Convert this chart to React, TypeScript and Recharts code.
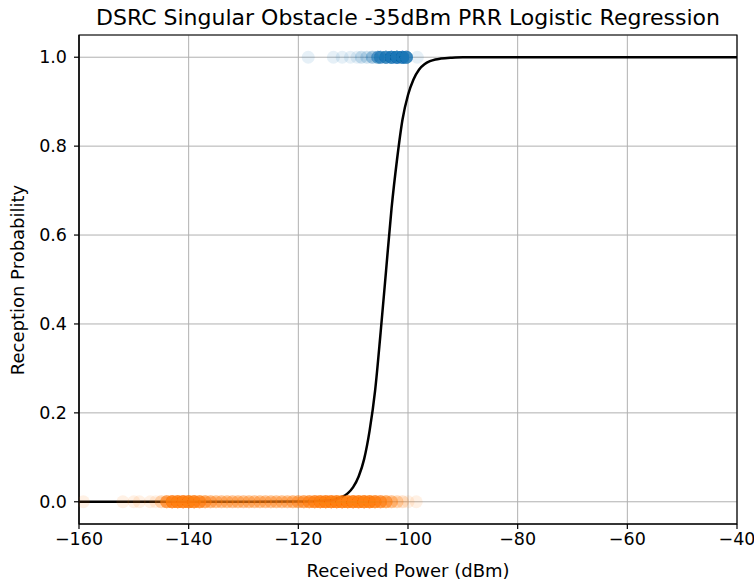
import React from 'react';
import { ComposedChart, Scatter, Line, XAxis, YAxis, CartesianGrid, ReferenceArea } from 'recharts';

const TITLE = 'DSRC Singular Obstacle -35dBm PRR Logistic Regression';
const X_LABEL = 'Received Power (dBm)';
const Y_LABEL = 'Reception Probability';

const xTicks = [-160, -140, -120, -100, -80, -60, -40];
const yTicks = [0, 0.2, 0.4, 0.6, 0.8, 1.0];

// Failed receptions (plotted at 0): x position and how many samples overlap there
const failX = [-159.2, -152, -150, -149, -147, -146, -145, -144, -143, -142, -141, -140, -139, -138, -137, -136, -135, -134, -133, -132, -131, -130, -129, -128, -127, -126, -125, -124, -123, -122, -121, -120, -119, -118, -117, -116, -115, -114, -113, -112, -111, -110, -109, -108, -107, -106, -105, -104, -103, -102, -101, -100, -98.5];
const failCount = [1, 1, 1, 1, 1, 1, 3, 10, 16, 18, 18, 18, 16, 12, 8, 6, 5, 5, 5, 5, 5, 5, 5, 5, 5, 5, 5, 5, 5, 5, 6, 7, 9, 11, 14, 16, 18, 18, 18, 18, 18, 18, 18, 18, 18, 14, 11, 8, 5, 3, 2, 1, 1];

// Successful receptions (plotted at 1)
const okX = [-118.2, -113.6, -112, -110.5, -109.3, -108.5, -107.5, -106.5, -105.5, -105, -104, -103, -102, -101, -100.3, -98.3];
const okCount = [1, 1, 1, 1, 1, 2, 2, 4, 8, 10, 14, 18, 20, 20, 16, 1];

// Fitted logistic curve
const curveX = [-160, -130, -120, -116, -114, -113, -112, -111, -110, -109, -108, -107, -106, -105, -104, -103, -102, -101, -100, -99, -98, -97, -96, -95, -94, -92, -90, -40];
const curveY = [0, 0, 0.0005, 0.002, 0.0035, 0.0063, 0.011, 0.019, 0.033, 0.057, 0.096, 0.16, 0.25, 0.38, 0.52, 0.66, 0.77, 0.86, 0.915, 0.95, 0.972, 0.984, 0.991, 0.995, 0.997, 0.999, 1.0, 1.0];

const failData = failX.flatMap((x, i) => Array.from({ length: failCount[i] }, () => ({ x, y: 0 })));
const okData = okX.flatMap((x, i) => Array.from({ length: okCount[i] }, () => ({ x, y: 1 })));
const curveData = curveX.map((x, i) => ({ x, y: curveY[i] }));

const FONT = 'DejaVu Sans, sans-serif';
const fmtX = (v: number) => String(v).replace('-', '\u2212');
const fmtY = (v: number) => v.toFixed(1);

const dot = (color: string) => (p: any) => (
  <circle cx={p.cx} cy={p.cy} r={6.5} fill={color} fillOpacity={0.11} stroke="none" />
);

export default function App() {
  return (
    <div style={{ position: 'absolute', left: 0, top: 0, width: 754, height: 584, background: '#fff', fontFamily: FONT }}>
      <ComposedChart width={754} height={584} margin={{ top: 35, right: 17, bottom: 0, left: 0 }}>
        <CartesianGrid stroke="#b0b0b0" strokeWidth={1} />
        <XAxis
          dataKey="x"
          type="number"
          domain={[-160, -40]}
          ticks={xTicks}
          allowDataOverflow
          height={60}
          tickFormatter={fmtX}
          tickSize={5}
          tickMargin={4}
          axisLine={{ stroke: '#000', strokeWidth: 1.2 }}
          tickLine={{ stroke: '#000', strokeWidth: 1.2 }}
          tick={{ fill: '#000', fontSize: 17.5, fontFamily: FONT }}
        />
        <YAxis
          dataKey="y"
          type="number"
          domain={[-0.05, 1.05]}
          ticks={yTicks}
          allowDataOverflow
          width={79}
          tickFormatter={fmtY}
          tickSize={5}
          tickMargin={7}
          axisLine={{ stroke: '#000', strokeWidth: 1.2 }}
          tickLine={{ stroke: '#000', strokeWidth: 1.2 }}
          tick={{ fill: '#000', fontSize: 17.5, fontFamily: FONT }}
        />
        <Scatter data={failData} dataKey="y" shape={dot('#ff7f0e')} isAnimationActive={false} />
        <Scatter data={okData} dataKey="y" shape={dot('#1f77b4')} isAnimationActive={false} />
        <Line data={curveData} dataKey="y" type="monotone" stroke="#000" strokeWidth={2.5} dot={false} isAnimationActive={false} />
        <ReferenceArea x1={-160} x2={-40} y1={-0.05} y2={1.05} fill="none" fillOpacity={0} stroke="#000" strokeWidth={1.2} />
      </ComposedChart>
      <svg width={754} height={584} style={{ position: 'absolute', left: 0, top: 0, pointerEvents: 'none' }}>
        <text x={408} y={25} textAnchor="middle" fontSize={22} fontFamily={FONT} fill="#000">{TITLE}</text>
        <text x={408} y={577} textAnchor="middle" fontSize={18} fontFamily={FONT} fill="#000">{X_LABEL}</text>
        <text x={24} y={280} textAnchor="middle" fontSize={18} fontFamily={FONT} fill="#000" transform="rotate(-90 24 280)">{Y_LABEL}</text>
      </svg>
    </div>
  );
}
